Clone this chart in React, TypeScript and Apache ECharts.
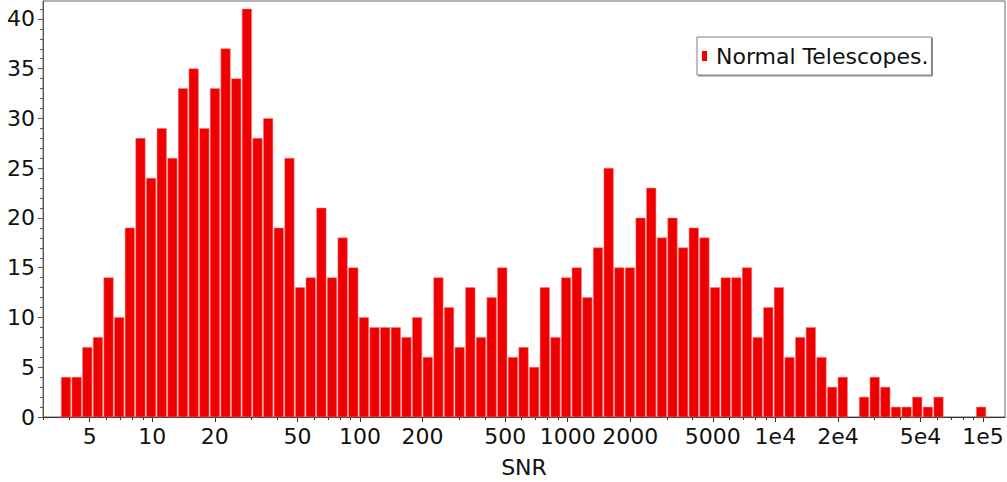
import { useEffect, useRef } from 'react';
import * as echarts from 'echarts';

// Histogram of SNR values, 87 equal-width bins in log10(SNR)
const seriesName = 'Normal Telescopes.';
const xAxisName = 'SNR';
const counts = [
  4, 4, 7, 8, 14, 10, 19, 28, 24, 29,
  26, 33, 35, 29, 33, 37, 34, 41, 28, 30,
  19, 26, 13, 14, 21, 14, 18, 15, 10, 9,
  9, 9, 8, 10, 6, 14, 11, 7, 13, 8,
  12, 15, 6, 7, 5, 13, 8, 14, 15, 12,
  17, 25, 15, 15, 20, 23, 18, 20, 17, 19,
  18, 13, 14, 14, 15, 8, 11, 13, 6, 8,
  9, 6, 3, 4, 0, 2, 4, 3, 1, 1,
  2, 1, 2, 0, 0, 0, 1,
];
const binStartLog10 = 0.559;
const binWidthLog10 = 0.05123;

const xLabelValues = [5, 10, 20, 50, 100, 200, 500, 1000, 2000, 5000, 1e4, 2e4, 5e4, 1e5];
const xLabelTexts = ['5', '10', '20', '50', '100', '200', '500', '1000', '2000', '5000', '1e4', '2e4', '5e4', '1e5'];
const yLabelValues = [0, 5, 10, 15, 20, 25, 30, 35, 40];

const FONT = 'DejaVu Sans';
const FONT_SIZE = 22;

export default function App() {
  const ref = useRef<HTMLDivElement>(null);

  useEffect(() => {
    if (!ref.current) return;
    const chart = echarts.init(ref.current, null, { renderer: 'svg' });

    const xMin = Math.log10(2.978);
    const xMax = Math.log10(1.275e5);
    const yMax = 41.8;

    const xMajor = xLabelValues.map((v) => Math.log10(v));
    const xMinor: number[] = [];
    for (let d = 1; d <= 1e5; d *= 10) {
      for (let m = 1; m <= 9; m++) {
        const lv = Math.log10(m * d);
        if (lv >= xMin && lv <= xMax) xMinor.push(lv);
      }
    }
    const yMinor: number[] = [];
    for (let v = 0; v <= 41; v++) yMinor.push(v);

    const bins = counts.map((c, i) => [
      binStartLog10 + i * binWidthLog10,
      binStartLog10 + (i + 1) * binWidthLog10,
      c,
    ]);

    const labelFor = (val: number) => {
      let best = 0;
      for (let i = 1; i < xMajor.length; i++) {
        if (Math.abs(xMajor[i] - val) < Math.abs(xMajor[best] - val)) best = i;
      }
      return xLabelTexts[best];
    };

    const option: any = {
      animation: false,
      backgroundColor: '#ffffff',
      textStyle: { fontFamily: FONT },
      grid: {
        left: 43,
        right: 2,
        top: 1,
        bottom: 65,
        containLabel: false,
        outerBoundsMode: 'none',
        show: true,
        borderColor: '#666666',
        borderWidth: 1,
        backgroundColor: 'transparent',
      },
      legend: {
        data: [seriesName],
        left: 697,
        top: 37,
        padding: [4, 3, 4, 5],
        itemWidth: 5,
        itemHeight: 10,
        icon: 'rect',
        selectedMode: false,
        backgroundColor: '#ffffff',
        borderColor: '#808080',
        borderWidth: 1,
        shadowColor: 'rgba(0,0,0,0.45)',
        shadowOffsetX: 1,
        shadowOffsetY: 1,
        shadowBlur: 1,
        textStyle: {
          fontFamily: FONT,
          fontSize: FONT_SIZE,
          lineHeight: 22,
          color: '#111111',
          padding: [8, 0, 0, 4],
        },
      },
      xAxis: [
        {
          type: 'value',
          min: xMin,
          max: xMax,
          position: 'bottom',
          name: xAxisName,
          nameLocation: 'middle',
          nameGap: 39,
          nameTextStyle: { fontFamily: FONT, fontSize: FONT_SIZE, color: '#111111' },
          splitLine: { show: false },
          axisLine: { show: true, lineStyle: { color: '#333333', width: 1 } },
          axisTick: {
            show: true,
            customValues: xMajor,
            length: 5,
            inside: false,
            lineStyle: { color: '#333333' },
          },
          axisLabel: {
            customValues: xMajor,
            formatter: (v: number) => labelFor(v),
            fontFamily: FONT,
            fontSize: FONT_SIZE,
            color: '#111111',
            margin: 8,
          },
        },
        {
          type: 'value',
          min: xMin,
          max: xMax,
          position: 'bottom',
          splitLine: { show: false },
          axisLine: { show: false },
          axisLabel: { show: false },
          axisTick: {
            show: true,
            customValues: xMinor,
            length: 3,
            inside: false,
            lineStyle: { color: '#333333' },
          },
        },
      ],
      yAxis: [
        {
          type: 'value',
          min: 0,
          max: yMax,
          position: 'left',
          splitLine: { show: false },
          axisLine: { show: true, lineStyle: { color: '#555555', width: 1 } },
          axisTick: {
            show: true,
            customValues: yLabelValues,
            length: 5,
            lineStyle: { color: '#555555' },
          },
          axisLabel: {
            customValues: yLabelValues,
            fontFamily: FONT,
            fontSize: FONT_SIZE,
            color: '#111111',
            margin: 8,
          },
        },
        {
          type: 'value',
          min: 0,
          max: yMax,
          position: 'left',
          splitLine: { show: false },
          axisLine: { show: false },
          axisLabel: { show: false },
          axisTick: {
            show: true,
            customValues: yMinor,
            length: 3,
            lineStyle: { color: '#555555' },
          },
        },
      ],
      series: [
        {
          name: seriesName,
          type: 'custom',
          xAxisIndex: 0,
          yAxisIndex: 0,
          itemStyle: { color: '#ee0000' },
          encode: { x: [0, 1], y: 2 },
          data: bins,
          renderItem: (_params: any, api: any) => {
            const lo = api.value(0);
            const hi = api.value(1);
            const c = api.value(2);
            if (!(c > 0)) return { type: 'group', children: [] };
            const p0 = api.coord([lo, c]);
            const p1 = api.coord([hi, 0]);
            return {
              type: 'rect',
              shape: {
                x: p0[0] + 0.6,
                y: p0[1],
                width: p1[0] - p0[0] - 1.2,
                height: p1[1] - p0[1],
              },
              style: {
                fill: '#ef0000',
                stroke: 'rgba(255,120,120,0.9)',
                lineWidth: 0.6,
              },
            };
          },
        },
      ],
    };

    chart.setOption(option);
    return () => chart.dispose();
  }, []);

  return (
    <div
      ref={ref}
      style={{ position: 'fixed', left: 0, top: 0, width: 1007, height: 482, background: '#ffffff' }}
    />
  );
}
